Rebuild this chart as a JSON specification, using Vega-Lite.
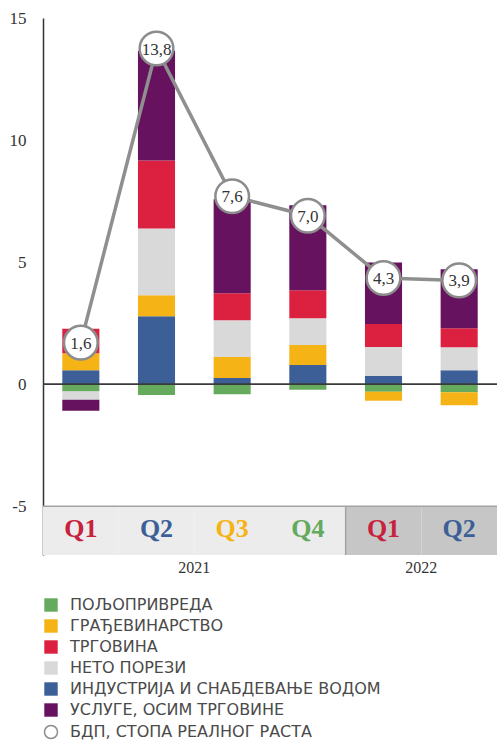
{
  "$schema": "https://vega.github.io/schema/vega-lite/v6.json",
  "width": 454,
  "height": 537,
  "autosize": {"type": "none"},
  "padding": {"left": 43, "top": 18, "right": 0, "bottom": 187},
  "config": {"view": {"stroke": null}, "font": "Liberation Serif"},
  "datasets": {
    "sectors": [
      {"q": "2021 Q1", "s": "ПОЉОПРИВРЕДА", "v": -0.3},
      {"q": "2021 Q1", "s": "ИНДУСТРИЈА И СНАБДЕВАЊЕ ВОДОМ", "v": 0.57},
      {"q": "2021 Q1", "s": "ГРАЂЕВИНАРСТВО", "v": 0.7},
      {"q": "2021 Q1", "s": "НЕТО ПОРЕЗИ", "v": -0.34},
      {"q": "2021 Q1", "s": "ТРГОВИНА", "v": 1.0},
      {"q": "2021 Q1", "s": "УСЛУГЕ, ОСИМ ТРГОВИНЕ", "v": -0.45},
      {"q": "2021 Q2", "s": "ПОЉОПРИВРЕДА", "v": -0.45},
      {"q": "2021 Q2", "s": "ИНДУСТРИЈА И СНАБДЕВАЊЕ ВОДОМ", "v": 2.78},
      {"q": "2021 Q2", "s": "ГРАЂЕВИНАРСТВО", "v": 0.86},
      {"q": "2021 Q2", "s": "НЕТО ПОРЕЗИ", "v": 2.74},
      {"q": "2021 Q2", "s": "ТРГОВИНА", "v": 2.78},
      {"q": "2021 Q2", "s": "УСЛУГЕ, ОСИМ ТРГОВИНЕ", "v": 4.5},
      {"q": "2021 Q3", "s": "ПОЉОПРИВРЕДА", "v": -0.41},
      {"q": "2021 Q3", "s": "ИНДУСТРИЈА И СНАБДЕВАЊЕ ВОДОМ", "v": 0.25},
      {"q": "2021 Q3", "s": "ГРАЂЕВИНАРСТВО", "v": 0.86},
      {"q": "2021 Q3", "s": "НЕТО ПОРЕЗИ", "v": 1.51},
      {"q": "2021 Q3", "s": "ТРГОВИНА", "v": 1.1},
      {"q": "2021 Q3", "s": "УСЛУГЕ, ОСИМ ТРГОВИНЕ", "v": 3.85},
      {"q": "2021 Q4", "s": "ПОЉОПРИВРЕДА", "v": -0.23},
      {"q": "2021 Q4", "s": "ИНДУСТРИЈА И СНАБДЕВАЊЕ ВОДОМ", "v": 0.78},
      {"q": "2021 Q4", "s": "ГРАЂЕВИНАРСТВО", "v": 0.82},
      {"q": "2021 Q4", "s": "НЕТО ПОРЕЗИ", "v": 1.1},
      {"q": "2021 Q4", "s": "ТРГОВИНА", "v": 1.15},
      {"q": "2021 Q4", "s": "УСЛУГЕ, ОСИМ ТРГОВИНЕ", "v": 3.48},
      {"q": "2022 Q1", "s": "ПОЉОПРИВРЕДА", "v": -0.31},
      {"q": "2022 Q1", "s": "ИНДУСТРИЈА И СНАБДЕВАЊЕ ВОДОМ", "v": 0.33},
      {"q": "2022 Q1", "s": "ГРАЂЕВИНАРСТВО", "v": -0.37},
      {"q": "2022 Q1", "s": "НЕТО ПОРЕЗИ", "v": 1.19},
      {"q": "2022 Q1", "s": "ТРГОВИНА", "v": 0.94},
      {"q": "2022 Q1", "s": "УСЛУГЕ, ОСИМ ТРГОВИНЕ", "v": 2.52},
      {"q": "2022 Q2", "s": "ПОЉОПРИВРЕДА", "v": -0.33},
      {"q": "2022 Q2", "s": "ИНДУСТРИЈА И СНАБДЕВАЊЕ ВОДОМ", "v": 0.57},
      {"q": "2022 Q2", "s": "ГРАЂЕВИНАРСТВО", "v": -0.53},
      {"q": "2022 Q2", "s": "НЕТО ПОРЕЗИ", "v": 0.94},
      {"q": "2022 Q2", "s": "ТРГОВИНА", "v": 0.78},
      {"q": "2022 Q2", "s": "УСЛУГЕ, ОСИМ ТРГОВИНЕ", "v": 2.42}
    ],
    "gdp": [
      {"q": "2021 Q1", "g": 1.7, "label": "1,6"},
      {"q": "2021 Q2", "g": 13.75, "label": "13,8"},
      {"q": "2021 Q3", "g": 7.7, "label": "7,6"},
      {"q": "2021 Q4", "g": 6.9, "label": "7,0"},
      {"q": "2022 Q1", "g": 4.35, "label": "4,3"},
      {"q": "2022 Q2", "g": 4.25, "label": "3,9"}
    ],
    "quarters": [
      {"q": "2021 Q1", "label": "Q1", "year": "2021"},
      {"q": "2021 Q2", "label": "Q2", "year": "2021"},
      {"q": "2021 Q3", "label": "Q3", "year": "2021"},
      {"q": "2021 Q4", "label": "Q4", "year": "2021"},
      {"q": "2022 Q1", "label": "Q1", "year": "2022"},
      {"q": "2022 Q2", "label": "Q2", "year": "2022"}
    ],
    "years": [
      {"q": "2021 Q2", "year": "2021"},
      {"q": "2022 Q1", "year": "2022"}
    ]
  },
  "layer": [
    {
      "data": {"name": "quarters"},
      "mark": {"type": "rect"},
      "encoding": {
        "x": {"field": "q", "type": "nominal", "axis": null,
              "scale": {"domain": ["2021 Q1", "2021 Q2", "2021 Q3", "2021 Q4", "2022 Q1", "2022 Q2"], "paddingInner": 0, "paddingOuter": 0}},
        "y": {"datum": -7, "type": "quantitative"},
        "y2": {"datum": -5},
        "fill": {"condition": {"test": "datum.year === '2022'", "value": "#c6c6c6"}, "value": "#ececec"}
      }
    },
    {
      "data": {"name": "sectors"},
      "transform": [
        {"calculate": "indexof(['ПОЉОПРИВРЕДА','ИНДУСТРИЈА И СНАБДЕВАЊЕ ВОДОМ','ГРАЂЕВИНАРСТВО','НЕТО ПОРЕЗИ','ТРГОВИНА','УСЛУГЕ, ОСИМ ТРГОВИНЕ'], datum.s)", "as": "o"}
      ],
      "mark": {"type": "bar", "width": {"band": 0.49}},
      "encoding": {
        "x": {"field": "q", "type": "nominal"},
        "y": {"field": "v", "type": "quantitative", "stack": "zero", "title": null,
              "scale": {"domain": [-7, 15], "nice": false, "zero": false},
              "axis": {"values": [-5, 0, 5, 10, 15], "labelExpr": "'' + datum.value", "ticks": false, "labelPadding": 17, "labelFont": "Liberation Serif", "labelFontSize": 17, "labelColor": "#333333",
                       "domainColor": "#333333", "domainWidth": 1.5, "gridColor": "#cccccc", "gridWidth": 1.3}},
        "color": {"field": "s", "type": "nominal",
                  "scale": {"domain": ["ПОЉОПРИВРЕДА", "ГРАЂЕВИНАРСТВО", "ТРГОВИНА", "НЕТО ПОРЕЗИ", "ИНДУСТРИЈА И СНАБДЕВАЊЕ ВОДОМ", "УСЛУГЕ, ОСИМ ТРГОВИНЕ"],
                            "range": ["#66aa5e", "#f5b316", "#dc2140", "#d9d9d9", "#3c5f97", "#66125e"]},
                  "legend": {"orient": "none", "legendX": 0, "legendY": 579, "title": null, "symbolType": "square", "symbolSize": 180, "symbolStrokeWidth": 0,
                             "labelFont": "DejaVu Sans", "labelFontSize": 16, "labelColor": "#4a4a4a", "labelOffset": 11, "rowPadding": 5, "labelLimit": 440}},
        "order": {"field": "o", "type": "quantitative"}
      }
    },
    {
      "data": {"values": [{}]},
      "mark": {"type": "rule", "color": "#3a3a3a", "strokeWidth": 1.6},
      "encoding": {"y": {"datum": 0, "type": "quantitative"}}
    },
    {
      "data": {"values": [{}]},
      "mark": {"type": "rule", "color": "#a3a3a3", "strokeWidth": 1.5},
      "encoding": {"y": {"datum": -5, "type": "quantitative"}}
    },
    {
      "data": {"values": [{}]},
      "mark": {"type": "rule", "color": "#a3a3a3", "strokeWidth": 1.5},
      "encoding": {
        "x": {"datum": "2022 Q1", "type": "nominal", "bandPosition": 0},
        "y": {"datum": -7, "type": "quantitative"},
        "y2": {"datum": -5}
      }
    },
    {
      "data": {"name": "quarters"},
      "mark": {"type": "text", "font": "Liberation Serif", "fontWeight": "bold", "fontSize": 26, "baseline": "alphabetic"},
      "encoding": {
        "x": {"field": "q", "type": "nominal"},
        "y": {"datum": -6.25, "type": "quantitative"},
        "text": {"field": "label"},
        "fill": {"field": "label", "type": "nominal", "legend": null,
                 "scale": {"domain": ["Q1", "Q2", "Q3", "Q4"], "range": ["#c8213e", "#3c5f97", "#f6b316", "#64a95d"]}}
      }
    },
    {
      "data": {"name": "years"},
      "mark": {"type": "text", "font": "Liberation Serif", "fontSize": 16, "color": "#333333", "baseline": "alphabetic"},
      "encoding": {
        "x": {"field": "q", "type": "nominal", "bandPosition": 1},
        "y": {"datum": -7.75, "type": "quantitative"},
        "text": {"field": "year"}
      }
    },
    {
      "data": {"name": "gdp"},
      "mark": {"type": "line", "color": "#8f8f8f", "strokeWidth": 3.5},
      "encoding": {
        "x": {"field": "q", "type": "nominal"},
        "y": {"field": "g", "type": "quantitative"}
      }
    },
    {
      "data": {"name": "gdp"},
      "mark": {"type": "point", "filled": true, "fill": "white", "stroke": "#8c8c8c", "strokeWidth": 2.5, "size": 1130, "opacity": 1},
      "encoding": {
        "x": {"field": "q", "type": "nominal"},
        "y": {"field": "g", "type": "quantitative"},
        "shape": {"datum": "БДП, СТОПА РЕАЛНОГ РАСТА", "type": "nominal",
                  "scale": {"range": ["circle"]},
                  "legend": {"orient": "none", "legendX": 0, "legendY": 706, "title": null, "symbolSize": 170,
                             "labelFont": "DejaVu Sans", "labelFontSize": 16, "labelColor": "#4a4a4a", "labelOffset": 11, "labelLimit": 440,
                             "encode": {"symbols": {"update": {"fill": {"value": "white"}, "stroke": {"value": "#8c8c8c"}, "strokeWidth": {"value": 1.5}, "opacity": {"value": 1}}}}}}
      }
    },
    {
      "data": {"name": "gdp"},
      "mark": {"type": "text", "font": "Liberation Serif", "fontSize": 17, "color": "#333333", "baseline": "middle", "dy": 1},
      "encoding": {
        "x": {"field": "q", "type": "nominal"},
        "y": {"field": "g", "type": "quantitative"},
        "text": {"field": "label"}
      }
    }
  ]
}
